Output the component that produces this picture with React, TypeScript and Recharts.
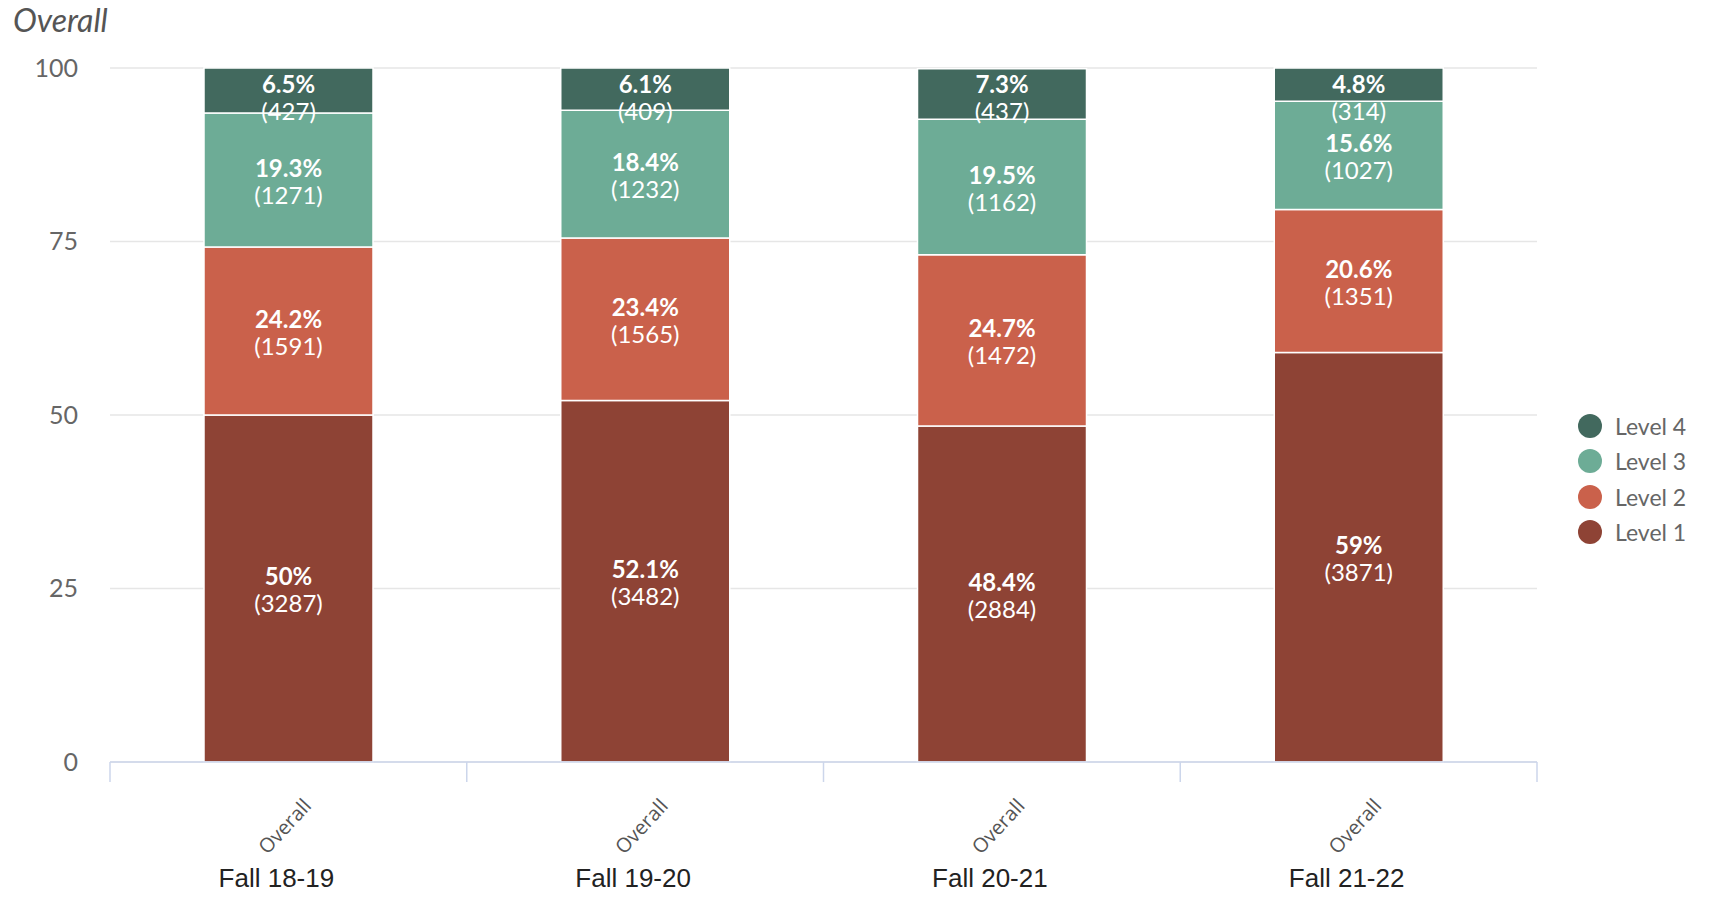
import React from 'react'
import { BarChart, Bar, XAxis, YAxis, CartesianGrid, Legend, LabelList } from 'recharts'

const seasons = ['Fall 18-19', 'Fall 19-20', 'Fall 20-21', 'Fall 21-22']
const groups = ['Overall', 'Overall', 'Overall', 'Overall']

const level1Pct = [50, 52.1, 48.4, 59]
const level2Pct = [24.2, 23.4, 24.7, 20.6]
const level3Pct = [19.3, 18.4, 19.5, 15.6]
const level4Pct = [6.5, 6.1, 7.3, 4.8]

const level1Count = [3287, 3482, 2884, 3871]
const level2Count = [1591, 1565, 1472, 1351]
const level3Count = [1271, 1232, 1162, 1027]
const level4Count = [427, 409, 437, 314]

const yTicks = [0, 25, 50, 75, 100]

const PLOT_TOP = 68

const series = [
  { key: 'l1', name: 'Level 1', color: '#8e4335', counts: level1Count },
  { key: 'l2', name: 'Level 2', color: '#ca614b', counts: level2Count },
  { key: 'l3', name: 'Level 3', color: '#6dac96', counts: level3Count },
  { key: 'l4', name: 'Level 4', color: '#42695e', counts: level4Count },
]

const data = seasons.map((season, i) => ({
  season,
  l1: level1Pct[i],
  l2: level2Pct[i],
  l3: level3Pct[i],
  l4: level4Pct[i],
}))

const makeLabel = (counts: number[]) => (props: any) => {
  const { x, y, width, height, value, index } = props
  const cx = x + width / 2
  const mid = Math.max(y + height / 2, PLOT_TOP + 28)
  return (
    <g style={{ fontFamily: 'Lato, sans-serif', fontSize: 24 }}>
      <text x={cx} y={mid - 13} textAnchor="middle" dominantBaseline="central" fill="#fff" fontWeight={700}>
        {value}%
      </text>
      <text x={cx} y={mid + 14} textAnchor="middle" dominantBaseline="central" fill="#fff">
        ({counts[index]})
      </text>
    </g>
  )
}

const GroupTick = (props: any) => {
  const { x, y, payload, index, visibleTicksCount } = props
  const half = payload.offset ?? 178
  const last = index === (visibleTicksCount ?? seasons.length) - 1
  const tx = x - 4
  const ty = y + 64
  return (
    <g>
      <line x1={x - half} y1={y} x2={x - half} y2={y + 20} stroke="#ccd6eb" strokeWidth={1.5} />
      {last && <line x1={x + half} y1={y} x2={x + half} y2={y + 20} stroke="#ccd6eb" strokeWidth={1.5} />}
      <text
        x={tx}
        y={ty}
        transform={`rotate(-47, ${tx}, ${ty})`}
        textAnchor="middle"
        dominantBaseline="central"
        fill="#555"
        style={{ fontFamily: '"Open Sans", sans-serif', fontSize: 20 }}
      >
        {groups[index]}
      </text>
    </g>
  )
}

const SeasonTick = (props: any) => {
  const { x, y, payload } = props
  return (
    <text
      x={x - 12}
      y={y + 30}
      textAnchor="middle"
      fill="#222"
      style={{ fontFamily: '"Liberation Sans", Arial, sans-serif', fontSize: 26 }}
    >
      {payload.value}
    </text>
  )
}

const LegendContent = () => (
  <div style={{ fontFamily: 'Lato, sans-serif', fontSize: 23, color: '#666' }}>
    {[...series].reverse().map((s) => (
      <div key={s.key} style={{ display: 'flex', alignItems: 'center', height: 35.5 }}>
        <span
          style={{
            display: 'inline-block',
            width: 24,
            height: 24,
            borderRadius: 12,
            background: s.color,
            marginRight: 13,
          }}
        />
        <span>{s.name}</span>
      </div>
    ))}
  </div>
)

export default function App() {
  return (
    <div style={{ position: 'absolute', left: 0, top: 0, width: 1731, height: 897, background: '#fff' }}>
      <div
        style={{
          position: 'absolute',
          left: 13,
          top: 0,
          fontFamily: 'Lato, sans-serif',
          fontStyle: 'italic',
          fontSize: 32,
          color: '#555',
        }}
      >
        Overall
      </div>
      <BarChart
        width={1731}
        height={897}
        data={data}
        margin={{ top: PLOT_TOP, right: 54, left: 20, bottom: 0 }}
        barSize={169}
      >
        <CartesianGrid vertical={false} stroke="#e6e6e6" strokeWidth={1.5} />
        <XAxis
          dataKey="season"
          height={95}
          interval={0}
          tick={<GroupTick />}
          tickLine={false}
          tickSize={0}
          tickMargin={0}
          axisLine={{ stroke: '#ccd6eb', strokeWidth: 1.5 }}
        />
        <XAxis
          xAxisId="season"
          dataKey="season"
          height={40}
          interval={0}
          tick={<SeasonTick />}
          tickLine={false}
          tickSize={0}
          tickMargin={0}
          axisLine={false}
        />
        <YAxis
          width={90}
          domain={[0, 100]}
          ticks={yTicks}
          axisLine={false}
          tickLine={false}
          tickSize={0}
          tickMargin={32}
          tick={{ fill: '#666', fontSize: 25, fontFamily: 'Lato, sans-serif' }}
        />
        <Legend
          layout="vertical"
          align="right"
          verticalAlign="top"
          content={<LegendContent />}
          wrapperStyle={{ left: 1578, top: 408, width: 140 }}
        />
        {series.map((s) => (
          <Bar
            key={s.key}
            dataKey={s.key}
            name={s.name}
            stackId="a"
            fill={s.color}
            stroke="#fff"
            strokeWidth={1.5}
            isAnimationActive={false}
          >
            <LabelList dataKey={s.key} content={makeLabel(s.counts)} />
          </Bar>
        ))}
      </BarChart>
    </div>
  )
}
